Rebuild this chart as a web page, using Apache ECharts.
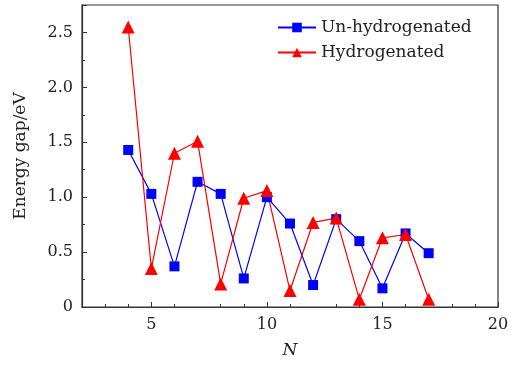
<!DOCTYPE html>
<html><head><meta charset="utf-8">
<script src="https://cdn.jsdelivr.net/npm/echarts@6/dist/echarts.min.js"></script>
<style>html,body{margin:0;padding:0;background:#fff}#c{width:516px;height:365px}</style>
</head><body><div id="c"></div>
<script>
const N = [4,5,6,7,8,9,10,11,12,13,14,15,16,17];
const unHydrogenated = [1.43,1.03,0.37,1.14,1.03,0.26,1.00,0.76,0.20,0.80,0.60,0.17,0.67,0.49];
const hydrogenated = [2.55,0.35,1.40,1.51,0.21,0.99,1.06,0.15,0.77,0.81,0.07,0.63,0.66,0.07];
const seriesNames = ['Un-hydrogenated','Hydrogenated'];
const font = 'DejaVu Serif';
const chart = echarts.init(document.getElementById('c'));
chart.setOption({
  animation:false,
  textStyle:{fontFamily:font},
  grid:{left:82,right:18,top:5,bottom:58,show:true,borderColor:'#333',borderWidth:1.2,backgroundColor:'transparent'},
  legend:{
    data:seriesNames, orient:'vertical', left:272, top:14, itemWidth:38, itemHeight:12, itemGap:8,
    textStyle:{fontFamily:font,fontSize:17,color:'#222'}
  },
  xAxis:{
    type:'value', min:2, max:20, interval:5, name:'N', nameLocation:'middle', nameGap:35,
    nameTextStyle:{fontFamily:font,fontSize:17,fontStyle:'italic',color:'#222'},
    axisLine:{lineStyle:{color:'#333',width:1.2}},
    axisTick:{inside:true,length:5,lineStyle:{color:'#333'},customValues:[5,10,15,20]},
    minorTick:{show:true,splitNumber:5,length:3,lineStyle:{color:'#333'}},
    axisLabel:{fontFamily:font,fontSize:16,color:'#222',margin:10,customValues:[5,10,15,20]},
    splitLine:{show:false}
  },
  yAxis:{
    type:'value', min:0, max:2.75, interval:0.5, name:'Energy gap/eV', nameLocation:'middle', nameGap:53, nameRotate:90,
    nameTextStyle:{fontFamily:font,fontSize:17,color:'#222'},
    axisLine:{lineStyle:{color:'#333',width:1.2}},
    axisTick:{inside:true,length:5,lineStyle:{color:'#333'}},
    minorTick:{show:true,splitNumber:2,length:3,lineStyle:{color:'#333'}},
    axisLabel:{fontFamily:font,fontSize:16,color:'#222',margin:9,showMaxLabel:false,
      formatter:v=>v===0?'0':v.toFixed(1)},
    splitLine:{show:false}
  },
  series:[
    {name:seriesNames[0],type:'line',data:N.map((n,i)=>[n,unHydrogenated[i]]),
     symbol:'rect',symbolSize:10,itemStyle:{color:'#0000ff'},lineStyle:{color:'#0000ff',width:1.2}},
    {name:seriesNames[1],type:'line',data:N.map((n,i)=>[n,hydrogenated[i]]),
     symbol:'triangle',symbolSize:13,itemStyle:{color:'#ff0000'},lineStyle:{color:'#ff0000',width:1.2}}
  ]
});
</script></body></html>
